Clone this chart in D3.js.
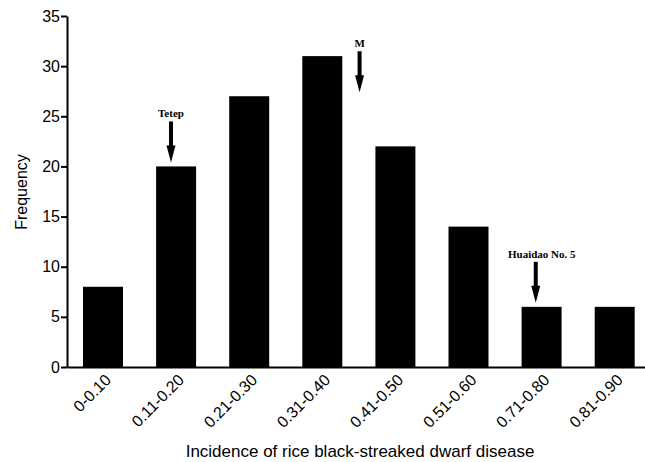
<!DOCTYPE html>
<html><head><meta charset="utf-8">
<script src="https://cdn.jsdelivr.net/npm/d3@7"></script>
<style>body{margin:0;background:#fff}svg{display:block}</style>
</head><body>
<script>
const categories = ["0-0.10","0.11-0.20","0.21-0.30","0.31-0.40","0.41-0.50","0.51-0.60","0.71-0.80","0.81-0.90"];
const frequency = [8, 20, 27, 31, 22, 14, 6, 6];
const yTicks = [0, 5, 10, 15, 20, 25, 30, 35];
const annotations = [
  {label: "Tetep", category: "0.11-0.20", value: 20.4, offset: -0.07},
  {label: "M", category: "0.41-0.50", value: 27.4, offset: -0.49},
  {label: "Huaidao No. 5", category: "0.71-0.80", value: 6.4, offset: -0.08}
];

const W = 645, H = 462;
const svg = d3.select("body").append("svg").attr("width", W).attr("height", H);
const x0 = 67, y0 = 367, yTop = 16;
const x = d3.scaleBand().domain(categories).range([x0, 650.7]).paddingInner(0.453).paddingOuter(0.219);
const y = d3.scaleLinear().domain([0, 35]).range([y0, yTop]);

svg.selectAll("rect.bar").data(frequency).enter().append("rect")
  .attr("x", (d,i) => x(categories[i]))
  .attr("y", d => y(d))
  .attr("width", x.bandwidth())
  .attr("height", d => y0 - y(d))
  .attr("fill", "#000");

const font = "Arial, 'Liberation Sans', sans-serif";
const yAxis = svg.append("g").attr("transform", `translate(${x0},0)`)
  .call(d3.axisLeft(y).tickValues(yTicks).tickSize(6).tickSizeOuter(0));
yAxis.select(".domain").attr("stroke-width", 2);
yAxis.selectAll(".tick line").attr("stroke-width", 2);
yAxis.selectAll("text").attr("font-family", font).attr("font-size", 16).attr("fill", "#000").attr("dx", "2");

const xAxis = svg.append("g").attr("transform", `translate(0,${y0})`)
  .call(d3.axisBottom(x).tickSize(0).tickSizeOuter(0));
xAxis.select(".domain").attr("stroke-width", 2);
xAxis.selectAll("text").attr("font-family", font).attr("font-size", 16).attr("fill", "#000")
  .attr("text-anchor", "end")
  .attr("x", 0).attr("y", 0).attr("dy", 0)
  .attr("transform", "translate(9,14) rotate(-45)");

svg.append("text").attr("x", 360).attr("y", 457).attr("text-anchor", "middle")
  .attr("font-family", font).attr("font-size", 17).text("Incidence of rice black-streaked dwarf disease");
svg.append("text").attr("transform", "translate(27,192) rotate(-90)").attr("text-anchor", "middle")
  .attr("font-family", font).attr("font-size", 16).text("Frequency");

// annotations
annotations.forEach(a => {
  const cx = x(a.category) + x.bandwidth()/2 + (a.offset || 0) * x.step();
  const tipY = y(a.value);
  const len = 41, headL = 17, shaftW = 4, headW = 9;
  const g = svg.append("g");
  g.append("rect").attr("x", cx - shaftW/2).attr("y", tipY - len).attr("width", shaftW).attr("height", len - headL + 1).attr("fill", "#000");
  g.append("path").attr("d", `M${cx-headW/2},${tipY-headL} L${cx+headW/2},${tipY-headL} L${cx},${tipY} Z`).attr("fill", "#000");
  g.append("text").attr("x", cx + (a.label.length > 5 ? 6 : 0)).attr("y", tipY - len - 4).attr("text-anchor", "middle")
    .attr("font-family", "'Liberation Serif', 'Times New Roman', serif").attr("font-weight", "bold").attr("font-size", 11).text(a.label);
});
</script>
</body></html>
